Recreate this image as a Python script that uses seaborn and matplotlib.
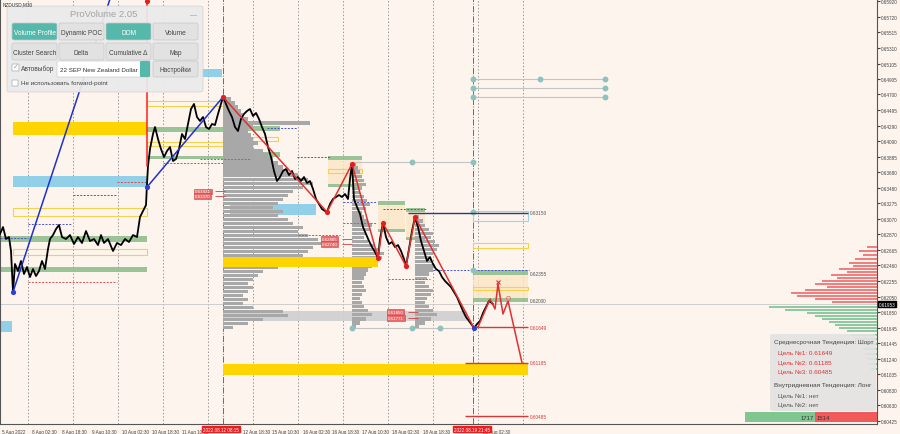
import numpy as np
import pandas as pd
import matplotlib.pyplot as plt
import seaborn as sns
from matplotlib.patches import FancyBboxPatch

# ---- price path (bar index ~ M30 bars, price) ----
bar = [0, 3, 6, 9, 11, 13, 15, 18, 21, 24,
       27, 30, 33, 36, 39, 42, 45, 48, 50, 53,
       56, 59, 62, 66, 70, 74, 78, 82, 86, 90,
       94, 98, 101, 104, 108, 113, 117, 121, 125, 129,
       133, 137, 140, 143, 146, 147, 148, 150, 153, 155,
       158, 161, 164, 167, 170, 173, 176, 179, 182, 185,
       188, 191, 194, 197, 200, 203, 206, 209, 212, 215,
       218, 221, 223, 226, 229, 232, 235, 238, 241, 244,
       247, 250, 253, 256, 259, 262, 265, 268, 271, 274,
       277, 280, 283, 286, 289, 292, 295, 298, 301, 304,
       307, 310, 313, 316, 319, 322, 325, 327, 330, 333,
       336, 339, 342, 345, 348, 350, 352, 354, 357, 360,
       363, 366, 369, 372, 375, 378, 380, 383, 386, 389,
       392, 395, 398, 401, 404, 406, 409, 412, 415, 418,
       421, 424, 427, 430, 433, 436, 439, 442, 445, 448,
       451, 454, 457, 460, 463, 466, 469, 472, 474, 477,
       480, 483, 486, 489, 493]
price = [0.62872, 0.62963, 0.62806, 0.62832, 0.62649, 0.62112, 0.62479, 0.62387, 0.62518, 0.62348,
         0.62439, 0.62308, 0.62413, 0.62321, 0.62387, 0.62518, 0.62413, 0.62675, 0.62806, 0.62858,
         0.62937, 0.62989, 0.62832, 0.62806, 0.62858, 0.62741, 0.62832, 0.62754, 0.62911, 0.62780,
         0.62806, 0.62727, 0.62858, 0.62754, 0.62806, 0.62649, 0.62754, 0.62727, 0.62806, 0.62767,
         0.62858, 0.62832, 0.63094, 0.63173, 0.63251, 0.63527, 0.63762, 0.63985, 0.64182, 0.64273,
         0.64116, 0.63985, 0.63880, 0.63959, 0.64011, 0.63828, 0.63854, 0.63985, 0.64182, 0.64116,
         0.64313, 0.64509, 0.64575, 0.64404, 0.64352, 0.64404, 0.64273, 0.64247, 0.64313, 0.64299,
         0.64444, 0.64575, 0.64666, 0.64575, 0.64483, 0.64404, 0.64273, 0.64221, 0.64378, 0.64444,
         0.64483, 0.64509, 0.64417, 0.64457, 0.64378, 0.64273, 0.64182, 0.64011, 0.63880, 0.63697,
         0.63566, 0.63618, 0.63697, 0.63723, 0.63644, 0.63697, 0.63592, 0.63618, 0.63566, 0.63618,
         0.63540, 0.63566, 0.63461, 0.63330, 0.63265, 0.63199, 0.63173, 0.63160, 0.63265, 0.63330,
         0.63356, 0.63382, 0.63356, 0.63396, 0.63330, 0.63592, 0.63789, 0.63330, 0.63225, 0.63134,
         0.62963, 0.62872, 0.62780, 0.62701, 0.62636, 0.62557, 0.62806, 0.63016, 0.62832, 0.62741,
         0.62767, 0.62701, 0.62727, 0.62649, 0.62544, 0.62452, 0.62675, 0.62911, 0.63094, 0.62963,
         0.62780, 0.62649, 0.62518, 0.62570, 0.62479, 0.62413, 0.62387, 0.62308, 0.62256, 0.62217,
         0.62177, 0.62112, 0.62046, 0.61955, 0.61863, 0.61784, 0.61732, 0.61679, 0.61640, 0.61693,
         0.61732, 0.61837, 0.61915, 0.61994, 0.61955]
last_price = 0.61953

# zigzag pivots and forecast
zz_bar = [223, 327, 352, 378, 383, 406, 415, 474]
zz_price = [0.64666, 0.63160, 0.63789, 0.62557, 0.63016, 0.62452, 0.63094, 0.61640]
up1_bar, up1_price = [13, 110], [0.62112, 0.65950]
up2_bar, up2_price = [147, 223], [0.63487, 0.64666]
gap_bar, gap_price = [147, 147], [0.65924, 0.63762]
fc_bar = [474, 478, 490, 495, 498, 503, 508, 522]
fc_price = [0.61640, 0.61653, 0.62020, 0.61889, 0.62217, 0.61824, 0.61994, 0.61185]

# filled zones
zone_x0 = [13, 13, 200, 0, 0, 0, 147, 147, 223, 223, 230, 223, 223, 223,
           328, 328, 328, 378, 378, 378, 406, 406, 406, 473, 473, 473]
zone_x1 = [147, 147, 222, 12, 147, 147, 223, 223, 280, 280, 316, 378, 467, 528,
           362, 362, 362, 405, 405, 405, 425, 425, 425, 528, 528, 528]
zone_lo = [0.64168, 0.63487, 0.64928, 0.61588, 0.62767, 0.62374, 0.64208, 0.63854, 0.64221, 0.63880,
           0.63120, 0.62439, 0.61732, 0.61024, 0.63841, 0.63527, 0.63487, 0.63251, 0.62937, 0.62898,
           0.63160, 0.62832, 0.62793, 0.62334, 0.62033, 0.61981]
zone_hi = [0.64339, 0.63631, 0.65033, 0.61732, 0.62845, 0.62439, 0.64273, 0.63893, 0.64286, 0.63946,
           0.63265, 0.62570, 0.61863, 0.61169, 0.63893, 0.63841, 0.63527, 0.63304, 0.63251, 0.62937,
           0.63212, 0.63160, 0.62832, 0.62400, 0.62334, 0.62033]
zone_kind = ['gold', 'sky', 'sky', 'sky', 'green', 'green', 'green', 'green', 'green', 'green',
             'sky', 'gold', 'gray', 'gold', 'green', 'sand', 'green', 'green', 'sand', 'green',
             'green', 'sand', 'green', 'green', 'sand', 'green']
zone_colors = {'gold': '#ffd500', 'sky': '#86cbe8', 'green': '#8fbf8f',
               'gray': '#cfcfcf', 'sand': '#fbe6c6'}

# outlined zones
box_x0 = [13, 13, 147, 147, 223, 328, 473, 473, 473]
box_x1 = [147, 147, 223, 223, 278, 362, 528, 528, 528]
box_lo = [0.63107, 0.62596, 0.64549, 0.64024, 0.64090, 0.63671, 0.62688, 0.62138, 0.63042]
box_hi = [0.63212, 0.62675, 0.64614, 0.64077, 0.64142, 0.63723, 0.62754, 0.62177, 0.63173]
box_color = ['#f2d34c'] * 8 + ['#9fd3e8']

# dashed levels
dash_x0 = [28, 0, 73, 163, 117, 28, 267, 297, 200, 298, 343, 343, 383, 433, 388]
dash_x1 = [72, 28, 117, 223, 147, 117, 297, 330, 250, 340, 377, 377, 427, 529, 430]
dash_p = [0.63003, 0.62819, 0.63382, 0.63802, 0.63553, 0.62243, 0.64260, 0.63880, 0.63854,
          0.62858, 0.63291, 0.63016, 0.63199, 0.62400, 0.62282]
dash_c = ['#4a55c8', '#4a55c8', '#4a55c8', '#d05050', '#d05050', '#d05050', '#4a55c8', '#4a55c8',
          '#d05050', '#d05050', '#4a55c8', '#d05050', '#4a55c8', '#4a55c8', '#d05050']

# target levels
tgt_price = [0.63150, 0.61649, 0.61185, 0.60485]
tgt_x0 = [408, 473, 465, 465]
tgt_color = ['#2c3a80', '#d43a3a', '#d43a3a', '#d43a3a']
side_labels = ['0.62355', '0.62000']
side_label_p = [0.62355, 0.62000]

# POC lines with dots
poc_p = [0.64902, 0.64784, 0.64666, 0.63815, 0.61640]
poc_x0 = [473, 473, 473, 352, 352]
poc_x1 = [605, 605, 605, 473, 473]
dot_bar = [473, 540, 605, 473, 605, 473, 605, 412, 473, 352, 412, 440, 473, 473]
dot_p = [0.64902, 0.64902, 0.64902, 0.64784, 0.64784, 0.64666, 0.64666, 0.63815, 0.63815,
         0.61640, 0.61640, 0.61640, 0.63160, 0.62400]

# red price tags on chart
tag_bar = [195, 195, 322, 322, 388, 388]
tag_p = [0.63431, 0.63370, 0.62805, 0.62740, 0.61850, 0.61771]

# volume profiles (start bar, top, bottom, widths)
prof_start = [223, 352, 415]
prof_top = [0.64640, 0.63789, 0.63094]
prof_bot = [0.61650, 0.61653, 0.61653]
prof1 = [8, 12, 15, 18, 20, 25, 87, 30, 25, 28, 30, 35, 30, 40, 45, 50, 55, 60, 65, 75,
         85, 90, 80, 70, 65, 60, 55, 50, 60, 55, 65, 70, 80, 75, 85, 95, 104, 90, 85, 80,
         75, 70, 55, 40, 35, 30, 25, 30, 25, 20, 25, 20, 30, 60, 65, 40, 25, 10]
prof2 = [4, 6, 8, 10, 12, 14, 10, 8, 12, 15, 18, 14, 10, 12, 16, 20, 18, 14, 12, 16,
         22, 28, 32, 30, 26, 20, 16, 14, 12, 10, 12, 14, 10, 8, 10, 12, 16, 20, 14, 8, 4]
prof3 = [4, 8, 10, 14, 18, 16, 20, 24, 22, 18, 14, 16, 20, 18, 14, 12, 10, 14, 18, 16,
         12, 10, 14, 18, 22, 16, 10, 4]

# DOM on right edge
ask_p = [0.62701, 0.62649, 0.62596, 0.62544, 0.62492, 0.62452, 0.62413, 0.62374, 0.62334,
         0.62295, 0.62256, 0.62217, 0.62177, 0.62138, 0.62099, 0.62059, 0.62020, 0.61981]
ask_v = [10, 18, 14, 22, 28, 24, 38, 30, 46, 40, 55, 62, 50, 72, 86, 80, 62, 45]
bid_p = [0.61915, 0.61876, 0.61837, 0.61797, 0.61758, 0.61719, 0.61679, 0.61640, 0.61601,
         0.61548, 0.61496, 0.61431, 0.61365, 0.61300, 0.61234, 0.61169, 0.61103]
bid_v = [108, 92, 70, 62, 55, 48, 42, 38, 30, 26, 22, 18, 14, 12, 10, 8, 6]
buy_total, sell_total = 1717, 1514

# axes labels
axis_prices = [0.65920, 0.65720, 0.65515, 0.65310, 0.65105, 0.64905, 0.64700, 0.64495, 0.64290,
               0.64090, 0.63885, 0.63680, 0.63480, 0.63275, 0.63070, 0.62870, 0.62665, 0.62460,
               0.62255, 0.62050, 0.61850, 0.61645, 0.61445, 0.61240, 0.61035, 0.60830, 0.60630,
               0.60425]
time_pos = [2, 32, 62, 92, 122, 152, 182, 243, 272, 303, 332, 362, 392, 423, 483]
time_lab = ['5 Aug 2022', '8 Aug 02:30', '8 Aug 18:30', '9 Aug 10:30', '10 Aug 02:30',
            '10 Aug 18:30', '11 Aug 10:30', '12 Aug 18:30', '15 Aug 10:30', '16 Aug 02:30',
            '16 Aug 18:30', '17 Aug 10:30', '18 Aug 02:30', '18 Aug 18:30', '22 Aug 02:30']
grid_bars = [28, 73, 118, 163, 208, 253, 298, 343, 388, 433, 478, 523]
event_bars = [223, 473]
event_lab = ['2022.08.12 08:15', '2022.08.19 21:45']
event_lab_pos = [203, 454]

sns.set_style("white")
plt.rcParams['font.family'] = ['Liberation Sans', 'DejaVu Sans']

W, H = 900, 435
BG = '#fdf4ed'
fig = plt.figure(figsize=(W / 100, H / 100), dpi=100, facecolor=BG)
ax = fig.add_axes([0, 10 / H, 877 / W, 425 / H], facecolor=BG)
ax.set_xlim(0, 877)
ax.set_ylim(0.60383, 0.65950)

# grid
for g in grid_bars:
    ax.axvline(g, color='#9a9a9a', lw=0.7, ls=(0, (1.5, 2)), zorder=0.5)
for e in event_bars:
    ax.axvline(e, color='#d04040', lw=0.7, ls='-.', zorder=0.6)
ax.axhline(last_price, color='#c8c8c8', lw=0.6, zorder=0.6)

# zones
zk = pd.DataFrame(dict(x0=zone_x0, x1=zone_x1, lo=zone_lo, hi=zone_hi, kind=zone_kind))
for kind, d in zk.groupby('kind'):
    ax.barh(y=(d.lo + d.hi) / 2, width=d.x1 - d.x0, left=d.x0, height=d.hi - d.lo,
            color=zone_colors[kind], alpha=0.9 if kind != 'sand' else 0.8, lw=0,
            zorder=1.5 if kind == 'gold' else 1.2)
bx = pd.DataFrame(dict(x0=box_x0, x1=box_x1, lo=box_lo, hi=box_hi))
ax.barh(y=(bx.lo + bx.hi) / 2, width=bx.x1 - bx.x0, left=bx.x0, height=bx.hi - bx.lo,
        fill=False, edgecolor=box_color, lw=0.8, zorder=1.3)
for x0, x1, p, c in zip(dash_x0, dash_x1, dash_p, dash_c):
    ax.hlines(p, x0, x1, color=c, lw=0.7, ls=(0, (2, 1.5)), zorder=1.4)

# volume profiles
for start, top, bot, w in zip(prof_start, prof_top, prof_bot, [prof1, prof2, prof3]):
    lev = np.linspace(top, bot, len(w))
    ax.barh(y=lev, width=w, left=start, height=abs(lev[1] - lev[0]) * 0.8,
            color='#a8a8a8', lw=0, zorder=1.3)
# yellow levels drawn above the profiles
big = zk[zk.kind == 'gold']
ax.barh(y=(big.lo + big.hi) / 2, width=big.x1 - big.x0, left=big.x0, height=big.hi - big.lo,
        color=zone_colors['gold'], lw=0, alpha=0.95, zorder=1.6)

# POC lines and dots
for p, x0, x1 in zip(poc_p, poc_x0, poc_x1):
    ax.hlines(p, x0, x1, color='#c4c4c4', lw=0.8, zorder=1.7)
sns.scatterplot(x=dot_bar, y=dot_p, ax=ax, color='#8ec3bd', s=18, lw=0, zorder=2)

# targets
for p, x0, c in zip(tgt_price, tgt_x0, tgt_color):
    ax.hlines(p, x0, 528, color=c, lw=1.0, zorder=3)
    ax.text(530, p, f'{p:.5f}', color=c if c != '#2c3a80' else '#555', fontsize=3.4,
            va='center', zorder=3)
for s, p in zip(side_labels, side_label_p):
    ax.text(530, p, s, color='#555', fontsize=3.4, va='center', zorder=3)

# price tags
for b, p in zip(tag_bar, tag_p):
    ax.hlines(p, b + 20, b + 30, color='#d04040', lw=0.6, zorder=3)
    ax.text(b, p, f'{p:.5f}', fontsize=3.2, color='white', va='center', zorder=3,
            bbox=dict(boxstyle='square,pad=0.15', fc='#e86a6a', ec='#d04040', lw=0.4))

# price
sns.lineplot(x=bar, y=price, ax=ax, color='black', lw=1.3, estimator=None, sort=False, zorder=5)

# zigzags
line_kw = dict(ax=ax, lw=1.1, estimator=None, sort=False, zorder=6)
sns.lineplot(x=zz_bar, y=zz_price, color='#e03030', **line_kw)
sns.lineplot(x=up1_bar, y=up1_price, color='#2030d0', **line_kw)
sns.lineplot(x=up2_bar, y=up2_price, color='#2030d0', **line_kw)
sns.lineplot(x=gap_bar, y=gap_price, color='#ff2020', **line_kw)
sns.lineplot(x=fc_bar, y=fc_price, color='#e03030', **line_kw)
sns.scatterplot(x=zz_bar[:-1] + [gap_bar[0]], y=zz_price[:-1] + [gap_price[0]], ax=ax,
                color='#e81c1c', s=14, lw=0, zorder=7)
sns.scatterplot(x=[up1_bar[0], up2_bar[0], zz_bar[-1]], y=[up1_price[0], up2_price[0], zz_price[-1]],
                ax=ax, color='#2a3fd8', s=14, lw=0, zorder=7)
ax.plot(fc_bar[4], fc_price[4] + 0.0003, marker='x', color='#e03030', ms=3, mew=0.8, zorder=7)
ax.plot(fc_bar[6], fc_price[6] + 0.0004, marker='o', mfc='none', color='#e07070', ms=3, mew=0.6, zorder=7)

# DOM
ax.barh(y=ask_p, width=[-v for v in ask_v], left=877, height=0.00022, color='#f08080', lw=0, zorder=4)
ax.barh(y=bid_p, width=[-v for v in bid_v], left=877, height=0.00022, color='#8fc9a2', lw=0, zorder=4)
span = 132
split = 745 + span * buy_total / (buy_total + sell_total)
ax.barh(y=0.60474, width=split - 745, left=745, height=0.00131, color='#80c690', lw=0, zorder=8)
ax.barh(y=0.60474, width=877 - split, left=split, height=0.00131, color='#f05a5a', lw=0, zorder=8)
ax.text(split - 1, 0.60474, str(buy_total), ha='right', va='center', fontsize=4.2, color='#333', zorder=9)
ax.text(split + 1, 0.60474, str(sell_total), ha='left', va='center', fontsize=4.2, color='#333', zorder=9)

# axes styling
ax.yaxis.tick_right()
ax.set_yticks(axis_prices)
ax.set_yticklabels([f'{p:.5f}' for p in axis_prices])
ax.set_xticks(time_pos)
ax.set_xticklabels(time_lab, ha='left')
ax.tick_params(axis='y', length=2, pad=1, labelsize=3.3, colors='#444')
ax.tick_params(axis='x', length=2, pad=1.5, labelsize=3.3, colors='#444')
ax.spines['top'].set_visible(False)
for side in ['right', 'bottom', 'left']:
    ax.spines[side].set_color('#555')
    ax.spines[side].set_linewidth(0.8)
ax.set_xlabel('')
ax.set_ylabel('')
ax.text(1.002, last_price, f'{last_price:.5f}', transform=ax.get_yaxis_transform(), fontsize=3.3,
        color='white', va='center', ha='left', zorder=10,
        bbox=dict(boxstyle='square,pad=0.15', fc='black', ec='black'))
for x, s in zip(event_lab_pos, event_lab):
    ax.text(x, -0.006, s, transform=ax.get_xaxis_transform(), fontsize=3.3, color='white',
            va='top', ha='left', zorder=10, clip_on=False,
            bbox=dict(boxstyle='square,pad=0.2', fc='#ee1c1c', ec='#ee1c1c'))


# ---- overlay widgets (figure pixel space) ----
def fbox(x, y, w, h, fc, ec='none', r=0.004, alpha=1.0, z=20, lw=0.5):
    p = FancyBboxPatch((x / W, 1 - (y + h) / H), w / W, h / H,
                       boxstyle=f'round,pad=0,rounding_size={r}', transform=fig.transFigure,
                       fc=fc, ec=ec, lw=lw, alpha=alpha, zorder=z)
    fig.add_artist(p)


def ftext(x, y, s, z=21, **kw):
    fig.text(x / W, 1 - y / H, s, zorder=z, **kw)


ftext(3, 5, 'NZDUSD,M30', fontsize=3.4, color='#333', va='center')
fbox(7, 7, 196, 86, '#ebebeb', ec='#cfcfcf', alpha=0.93)
ftext(104, 14.5, 'ProVolume 2.05', fontsize=6.8, color='#a3a3a3', ha='center', va='center')
ftext(194, 16, '—', fontsize=5, color='#999', ha='center', va='center')
btn_x = [12, 59, 106, 153]
rows = [(24, ['Volume Profile', 'Dynamic POC', 'DOM', 'Volume'], [True, False, True, False]),
        (44, ['Cluster Search', 'Delta', 'Cumulative Δ', 'Map'], [False, False, False, False])]
for y, labs, on in rows:
    for x, s, o in zip(btn_x, labs, on):
        fbox(x, y, 45, 17, '#55b8aa' if o else '#e2e2e2', ec='#c8c8c8', r=0.003, z=22)
        ftext(x + 22.5, y + 9.5, s, z=23, fontsize=4.7, color='white' if o else '#444',
              ha='center', va='center')
fbox(12, 65, 7, 7, 'white', ec='#aaa', r=0.001, z=22)
ftext(15.5, 68, '✓', z=23, fontsize=5, color='#55b8aa', ha='center', va='center')
ftext(21, 69, 'Автовыбор', z=23, fontsize=4.7, color='#444', va='center')
fbox(57, 62, 93, 16, 'white', ec='#ccc', r=0.002, z=22)
fbox(140, 62, 10, 16, '#55b8aa', r=0.002, z=22)
ftext(60, 70, '22 SEP New Zealand Dollar', z=23, fontsize=4.5, color='#333', va='center')
fbox(153, 62, 45, 16, '#e2e2e2', ec='#c8c8c8', r=0.003, z=22)
ftext(175.5, 70, 'Настройки', z=23, fontsize=4.7, color='#444', ha='center', va='center')
fbox(12, 81, 6, 6, 'white', ec='#aaa', r=0.001, z=22)
ftext(21, 84, 'Не использовать forward-point', z=23, fontsize=4.5, color='#444', va='center')

# info box
fbox(770, 335, 106, 77, '#e3e3e3', ec='none', r=0.004, alpha=0.92, z=20)
info = [(343, 774, 'Среднесрочная Тенденция: Шорт', '#444'),
        (353, 778, 'Цель №1: 0.61649', '#e03030'),
        (363, 778, 'Цель №2: 0.61185', '#e03030'),
        (372, 778, 'Цель №3: 0.60485', '#e03030'),
        (386, 774, 'Внутридневная Тенденция: Лонг', '#444'),
        (396, 778, 'Цель №1: нет', '#555'),
        (405, 778, 'Цель №2: нет', '#555')]
for y, x, s, c in info:
    ftext(x, y, s, fontsize=4.6, color=c, va='center')

fig.savefig('out.png', dpi=100, facecolor=BG)
